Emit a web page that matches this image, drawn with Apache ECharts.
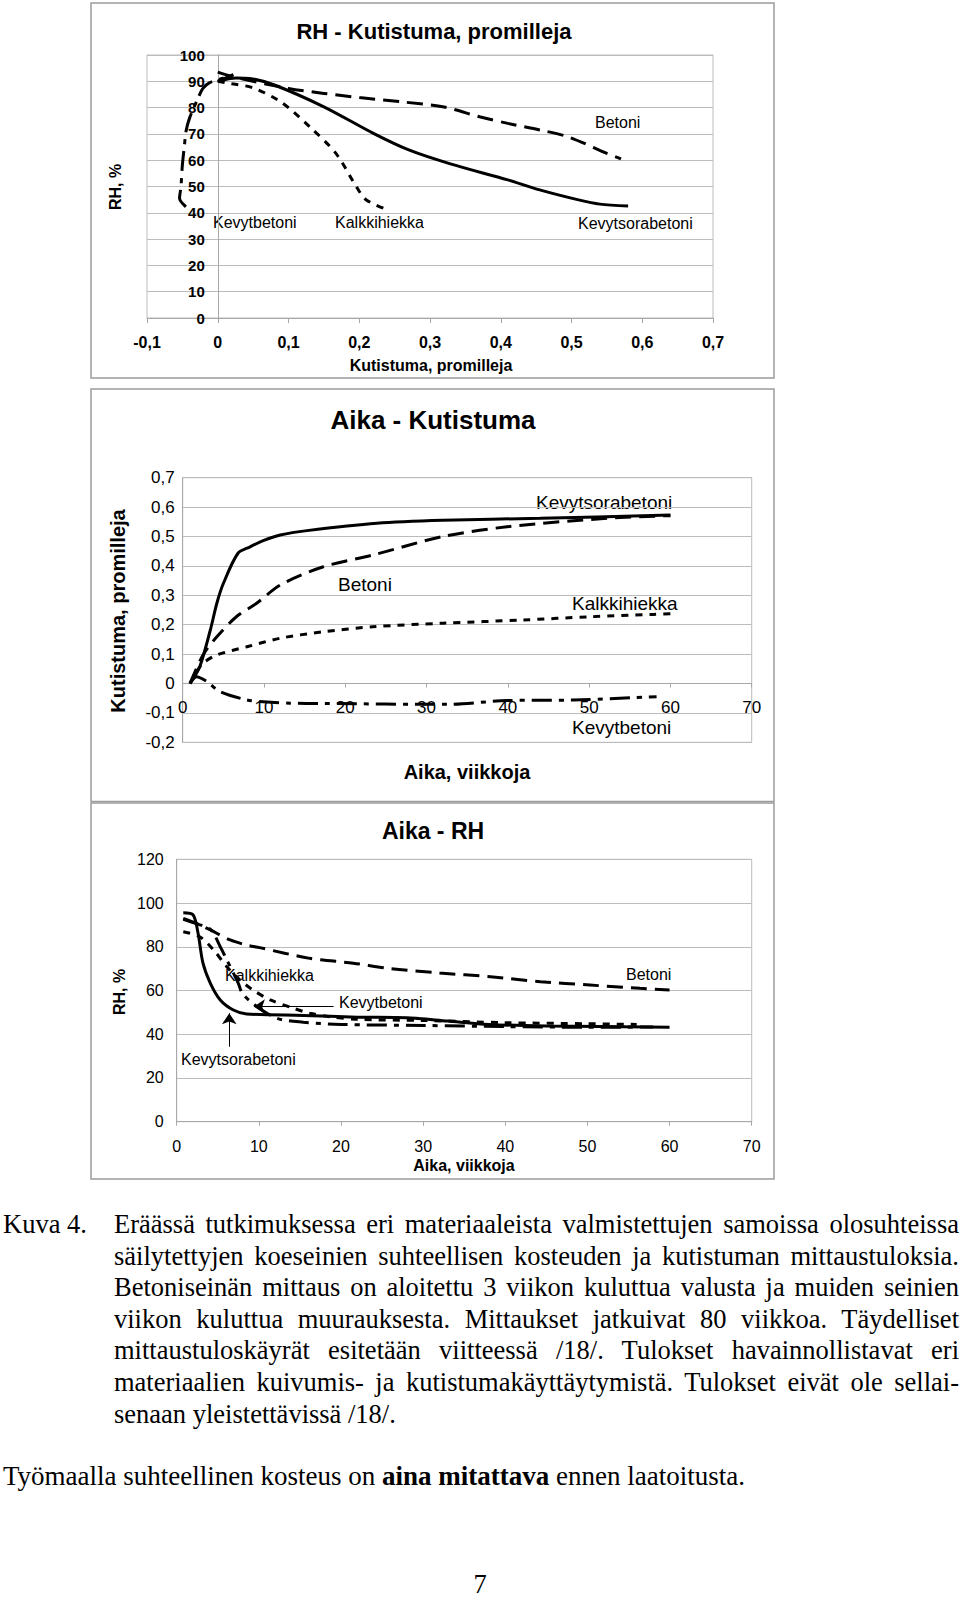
<!DOCTYPE html>
<html lang="fi">
<head>
<meta charset="utf-8">
<title>Kuva 4</title>
<script src="https://cdn.jsdelivr.net/npm/echarts@6/dist/echarts.min.js"></script>
<style>
  html, body { margin: 0; padding: 0; background: #fff; }
  #page { position: relative; width: 960px; height: 1600px; overflow: hidden; }
  #charts { position: absolute; left: 0; top: 0; width: 960px; height: 1190px; }
  .cap { position: absolute; font-family: 'Liberation Serif', 'Times New Roman', serif; font-size: 26.5px; line-height: 31.6px; color: #000; }
  .para .ln { text-align: justify; text-align-last: justify; }
  .para .ln.last { text-align-last: left; }
</style>
</head>
<body>
<div id="page">
  <div id="charts"></div>
  <div class="cap" style="left:3px; top:1209px;">Kuva 4.</div>
  <div class="cap para" style="left:114px; top:1209px; width:845px;">
    <div class="ln">Eräässä tutkimuksessa eri materiaaleista valmistettujen samoissa olosuhteissa</div>
    <div class="ln">säilytettyjen koeseinien suhteellisen kosteuden ja kutistuman mittaustuloksia.</div>
    <div class="ln">Betoniseinän mittaus on aloitettu 3 viikon kuluttua valusta ja muiden seinien</div>
    <div class="ln">viikon kuluttua muurauksesta. Mittaukset jatkuivat 80 viikkoa. Täydelliset</div>
    <div class="ln">mittaustuloskäyrät esitetään viitteessä /18/. Tulokset havainnollistavat eri</div>
    <div class="ln">materiaalien kuivumis- ja kutistumakäyttäytymistä. Tulokset eivät ole sellai-</div>
    <div class="ln last">senaan yleistettävissä /18/.</div>
  </div>
  <div class="cap" style="left:3px; top:1461px; font-size:27px;">Työmaalla suhteellinen kosteus on <b>aina mitattava</b> ennen laatoitusta.</div>
  <div class="cap" style="left:0; width:960px; top:1573px; line-height:22px; text-align:center;">7</div>
</div>
<script>
// materiaalit
const materials = ['Betoni', 'Kevytsorabetoni', 'Kalkkihiekka', 'Kevytbetoni']

// RH - Kutistuma: [kutistuma ‰, RH %]
const rkBetoni = [[0, 93.5], [0.025, 91.5], [0.1, 87.3], [0.15, 85.4], [0.2, 83.8], [0.26, 82.2], [0.32, 80.2], [0.37, 76.5], [0.41, 74], [0.455, 71.5], [0.495, 68.9], [0.55, 62.6], [0.57, 60.5]]
const rkKevytsora = [[0, 90], [0.026, 91.3], [0.045, 91.1], [0.08, 88.6], [0.15, 80.3], [0.22, 70.2], [0.27, 63.9], [0.33, 58.5], [0.41, 52.5], [0.455, 48.7], [0.51, 44.9], [0.54, 43.3], [0.58, 42.6]]
const rkKalkki = [[0, 90], [0.017, 89.2], [0.05, 87.5], [0.09, 82], [0.13, 72.7], [0.167, 62.6], [0.196, 49.9], [0.21, 44.9], [0.243, 40.8]]
const rkKevytbet = [[0, 90], [0.022, 92.5], [0.005, 91], [-0.012, 89.4], [-0.021, 87.3], [-0.028, 83.5], [-0.04, 75.9], [-0.045, 70.8], [-0.047, 65.8], [-0.05, 58.2], [-0.052, 49.9], [-0.054, 45.5], [-0.045, 42.3]]

// Aika - Kutistuma: [viikkoa, kutistuma ‰]
const akBetoni = [[0.9, 0], [2.5, 0.097], [4.2, 0.159], [6.6, 0.227], [9.1, 0.273], [12, 0.335], [17.3, 0.397], [23.4, 0.437], [32, 0.5], [39.9, 0.533], [52.2, 0.562], [60, 0.571]]
const akKevytsora = [[0.9, 0], [2.1, 0.057], [3.4, 0.182], [4.2, 0.273], [5, 0.34], [6.8, 0.443], [8.3, 0.465], [9.9, 0.486], [12, 0.505], [15.3, 0.52], [23.9, 0.545], [32, 0.555], [44, 0.562], [60, 0.573]]
const akKalkki = [[0.9, 0], [1.7, 0.04], [2.5, 0.069], [4.2, 0.097], [7.9, 0.125], [12, 0.154], [17.3, 0.176], [23.4, 0.193], [32, 0.205], [41.9, 0.216], [50.1, 0.227], [57.9, 0.235], [60, 0.237]]
const akKevytbet = [[0.9, 0], [1.7, 0.023], [3, 0.006], [4.6, -0.028], [7.9, -0.056], [9.9, -0.062], [13.2, -0.067], [17.3, -0.068], [32.5, -0.071], [39.9, -0.058], [48, -0.056], [58.3, -0.045]]

// Aika - RH: [viikkoa, RH %]
const arBetoni = [[0.8, 93], [2.4, 90.7], [4.1, 87.7], [6.5, 83.1], [8.5, 80.8], [10.1, 79.6], [16.2, 74.7], [21.5, 72.5], [26, 70], [32, 68], [38.2, 66.3], [44.3, 64], [50.3, 62.5], [56.4, 61], [60, 60.2]]
const arKevytsora = [[0.8, 95.6], [2, 94.6], [2.6, 86.2], [3.2, 72.5], [4.1, 63.3], [5.3, 55.7], [6.9, 51.1], [8.5, 49.3], [15.4, 48.6], [22, 47.8], [28, 47.5], [33, 46], [38, 44.5], [45, 43.8], [60, 43.2]]
const arKalkki = [[0.8, 86.9], [2.8, 84.6], [4.5, 78.5], [6.1, 70.9], [7.7, 64.8], [9.3, 60.2], [11.4, 55.7], [14.2, 51.9], [16.2, 49.6], [18.7, 48], [22, 46.8], [30, 46.3], [40, 45.3], [50, 44.8], [56, 44.5]]
const arKevytbet = [[0.8, 92.5], [2, 91], [4.1, 88], [5.3, 80], [6.1, 74], [7.5, 63.3], [8, 58.7], [9.5, 53.4], [12.2, 47.3], [15.4, 45.5], [20, 44.5], [30, 44], [40, 43.5], [50, 43.2], [58, 43.3]]

// nuolet (Aika - RH)
const arrowKevytbet = [[19.1, 52.6], [9.4, 52.6]]
const arrowKevytsora = [[6.4, 34.3], [6.4, 49.6]]

const SANS = '"Liberation Sans", Arial, sans-serif'
const GRID_C = '#bcbcbc'
const AXIS_C = '#a8a8a8'

/*viivatyylit*/
const dashes = {
  Betoni: [16, 8],
  Kevytsorabetoni: 'solid',
  Kalkkihiekka: [7, 7],
  Kevytbetoni: [20, 7, 5, 7]
}

function comma(v) {
  return String(Math.round(v * 10) / 10).replace('.', ',')
}

function line(name, data, idx, extra) {
  return Object.assign({
    name: name,
    type: 'line',
    data: data,
    xAxisIndex: idx,
    yAxisIndex: idx,
    symbol: 'none',
    smooth: 0.3,
    silent: true,
    animation: false,
    lineStyle: { color: '#000', width: 3, type: dashes[name] }
  }, extra || {})
}

function txt(x, y, text, font, rot) {
  return {
    type: 'text', x: x, y: y, rotation: rot || 0, silent: true,
    style: { text: text, font: font, fill: '#000', align: 'center', verticalAlign: 'middle', textAlign: 'center', textVerticalAlign: 'middle' }
  }
}
function ltxt(x, y, text, size) {
  return {
    type: 'text', x: x, y: y, silent: true,
    style: { text: text, font: size + 'px ' + SANS, fill: '#000', align: 'left', verticalAlign: 'middle', textAlign: 'left', textVerticalAlign: 'middle' }
  }
}
function box(x, y, w, h) {
  return { type: 'rect', silent: true, shape: { x: x, y: y, width: w, height: h }, style: { fill: 'none', stroke: '#9c9c9c', lineWidth: 1.5 } }
}

const gridBase = { show: true, borderColor: GRID_C, borderWidth: 1, backgroundColor: 'transparent', outerBoundsMode: 'none' }

const chartDom = document.getElementById('charts')
const myChart = echarts.init(chartDom, null, { renderer: 'svg' })

const option = {
  animation: false,
  backgroundColor: '#fff',
  grid: [
    Object.assign({ left: 147, top: 55, width: 566, height: 263 }, gridBase),
    Object.assign({ left: 182.7, top: 477.7, width: 569, height: 264.6 }, gridBase),
    Object.assign({ left: 176.7, top: 859.3, width: 575, height: 262.4 }, gridBase)
  ],
  xAxis: [
    {
      type: 'value', gridIndex: 0, min: -0.1, max: 0.7, interval: 0.1,
      axisLine: { onZero: false, lineStyle: { color: AXIS_C } },
      axisTick: { show: true, length: 5, lineStyle: { color: AXIS_C } },
      axisLabel: { color: '#000', fontFamily: SANS, fontWeight: 'bold', fontSize: 16, margin: 16, formatter: comma, showMinLabel: true, showMaxLabel: true },
      splitLine: { show: false }
    },
    {
      /*x-akseli kulkee nollan kohdalla*/
      type: 'value', gridIndex: 1, min: 0, max: 70, interval: 10,
      position: 'bottom', offset: -58.8,
      axisLine: { onZero: false, lineStyle: { color: AXIS_C } },
      axisTick: { show: true, length: 4, lineStyle: { color: AXIS_C } },
      axisLabel: { color: '#000', fontFamily: SANS, fontSize: 17, margin: 15, showMinLabel: true, showMaxLabel: true },
      splitLine: { show: false }
    },
    {
      type: 'value', gridIndex: 2, min: 0, max: 70, interval: 10,
      axisLine: { onZero: false, lineStyle: { color: AXIS_C } },
      axisTick: { show: true, length: 4, lineStyle: { color: AXIS_C } },
      axisLabel: { color: '#000', fontFamily: SANS, fontSize: 16, margin: 17, showMinLabel: true, showMaxLabel: true },
      splitLine: { show: false }
    }
  ],
  yAxis: [
    {
      /*y-akseli kulkee kutistuman nollakohdassa*/
      type: 'value', gridIndex: 0, min: 0, max: 100, interval: 10,
      position: 'left', offset: -70.75,
      axisLine: { show: true, onZero: false, lineStyle: { color: AXIS_C } },
      axisTick: { show: false },
      axisLabel: { color: '#000', fontFamily: SANS, fontWeight: 'bold', fontSize: 15, margin: 13, showMinLabel: true, showMaxLabel: true },
      splitLine: { show: true, lineStyle: { color: GRID_C } }
    },
    {
      type: 'value', gridIndex: 1, min: -0.2, max: 0.7, interval: 0.1,
      axisLine: { show: true, onZero: false, lineStyle: { color: AXIS_C } },
      axisTick: { show: false },
      axisLabel: { color: '#000', fontFamily: SANS, fontSize: 17, margin: 8, formatter: comma, showMinLabel: true, showMaxLabel: true },
      splitLine: { show: true, lineStyle: { color: GRID_C } }
    },
    {
      type: 'value', gridIndex: 2, min: 0, max: 120, interval: 20,
      axisLine: { show: true, onZero: false, lineStyle: { color: AXIS_C } },
      axisTick: { show: false },
      axisLabel: { color: '#000', fontFamily: SANS, fontSize: 16, margin: 13, showMinLabel: true, showMaxLabel: true },
      splitLine: { show: true, lineStyle: { color: GRID_C } }
    }
  ],
  series: [
    line(materials[0], rkBetoni, 0),
    line(materials[1], rkKevytsora, 0),
    line(materials[2], rkKalkki, 0),
    line(materials[3], rkKevytbet, 0),

    line(materials[0], akBetoni, 1),
    line(materials[1], akKevytsora, 1),
    line(materials[2], akKalkki, 1),
    line(materials[3], akKevytbet, 1),

    line(materials[0], arBetoni, 2),
    line(materials[1], arKevytsora, 2),
    line(materials[2], arKalkki, 2),
    line(materials[3], arKevytbet, 2, {
      /*nuolet selitteistä käyriin*/
      markLine: {
        silent: true,
        animation: false,
        symbol: ['none', 'arrow'],
        symbolSize: 11,
        label: { show: false },
        lineStyle: { color: '#000', width: 1, type: 'solid' },
        data: [
          [{ coord: arrowKevytbet[0] }, { coord: arrowKevytbet[1] }],
          [{ coord: arrowKevytsora[0] }, { coord: arrowKevytsora[1] }]
        ]
      }
    })
  ],
  graphic: [
    box(91, 3, 683, 375),
    box(91, 389, 683, 412.5),
    box(91, 803, 683, 376),

    // RH - Kutistuma
    txt(434, 31, 'RH - Kutistuma, promilleja', 'bold 22px ' + SANS),
    txt(431, 365, 'Kutistuma, promilleja', 'bold 16px ' + SANS),
    txt(115, 187, 'RH, %', 'bold 16px ' + SANS, Math.PI / 2),
    ltxt(213, 222, 'Kevytbetoni', 16),
    ltxt(335, 222, 'Kalkkihiekka', 16),
    ltxt(595, 122, 'Betoni', 16),
    ltxt(578, 223, 'Kevytsorabetoni', 16),

    // Aika - Kutistuma
    txt(433, 420, 'Aika - Kutistuma', 'bold 26px ' + SANS),
    txt(467, 772, 'Aika, viikkoja', 'bold 20px ' + SANS),
    txt(118, 611, 'Kutistuma, promilleja', 'bold 20px ' + SANS, Math.PI / 2),
    ltxt(536, 502, 'Kevytsorabetoni', 19),
    ltxt(338, 584, 'Betoni', 19),
    ltxt(572, 603, 'Kalkkihiekka', 19),
    ltxt(572, 727, 'Kevytbetoni', 19),

    // Aika - RH
    txt(433, 831, 'Aika - RH', 'bold 23px ' + SANS),
    txt(464, 1165, 'Aika, viikkoja', 'bold 16px ' + SANS),
    txt(119, 992, 'RH, %', 'bold 16px ' + SANS, Math.PI / 2),
    ltxt(225, 975, 'Kalkkihiekka', 16),
    ltxt(339, 1002, 'Kevytbetoni', 16),
    ltxt(181, 1059, 'Kevytsorabetoni', 16),
    ltxt(626, 974, 'Betoni', 16)
  ]
}

option && myChart.setOption(option)
</script>
</body>
</html>
